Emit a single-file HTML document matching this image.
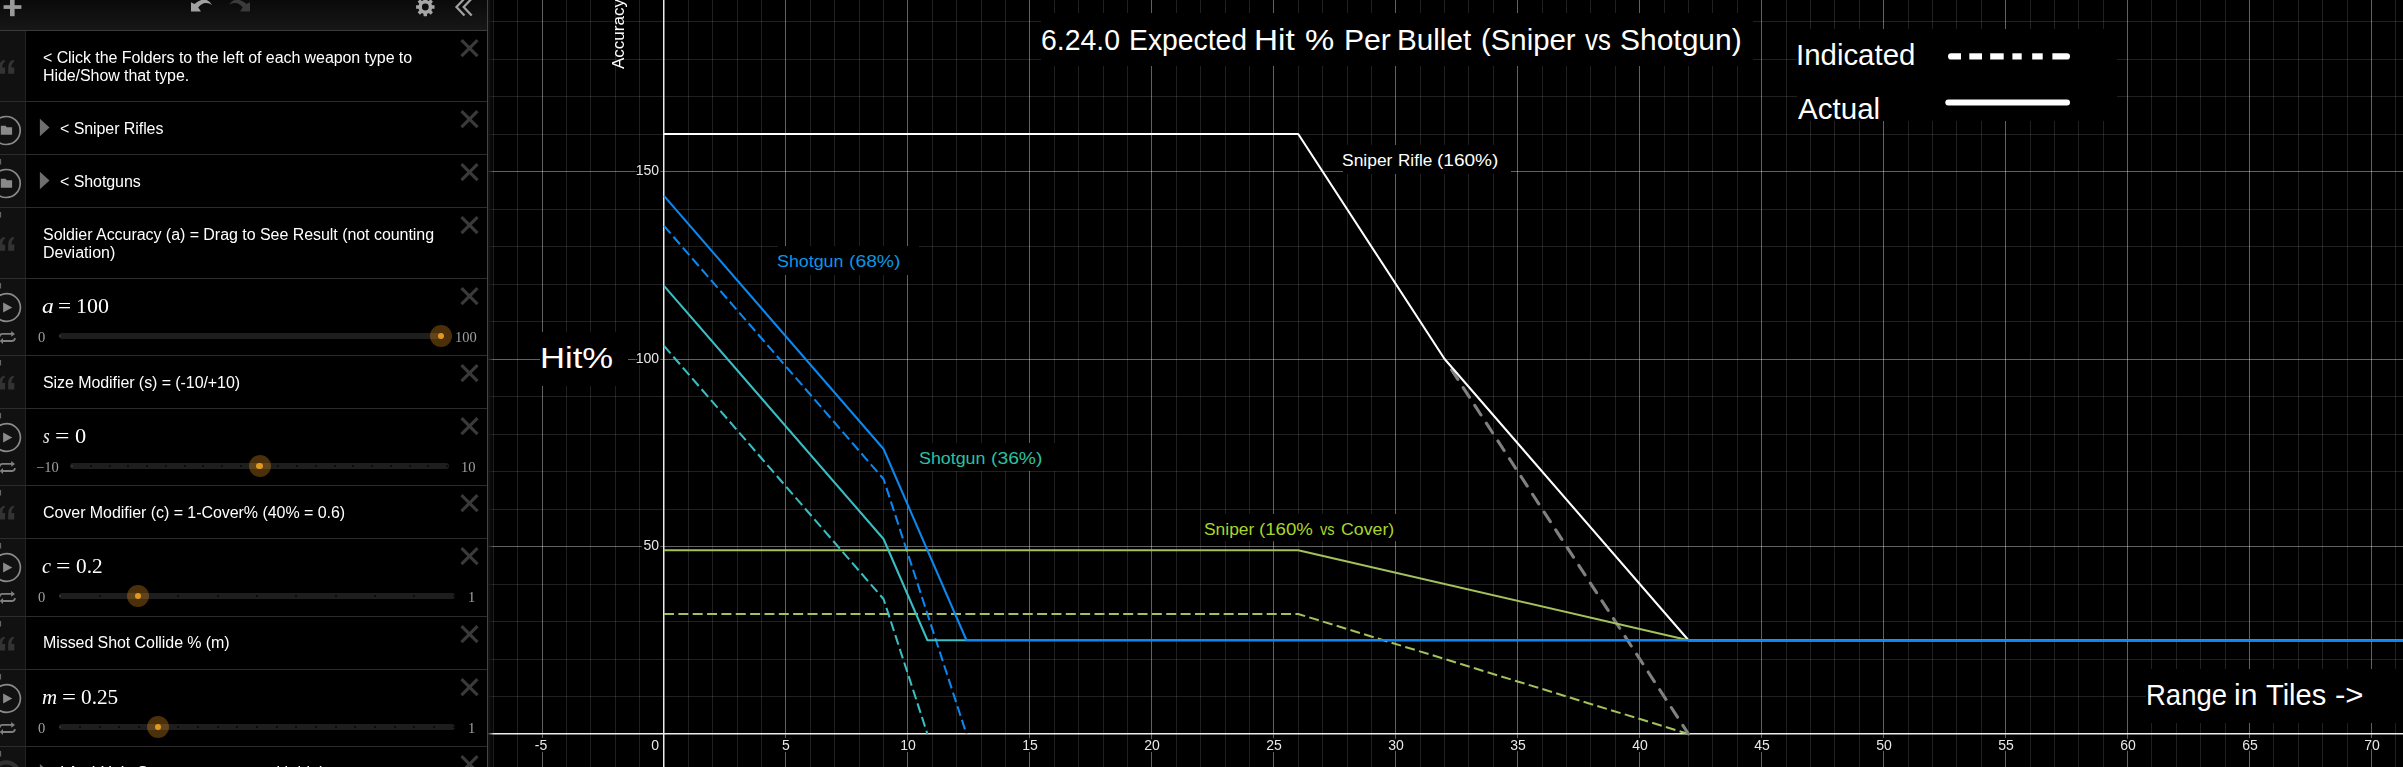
<!DOCTYPE html>
<html><head><meta charset="utf-8"><title>Desmos</title>
<style>
*{margin:0;padding:0;box-sizing:border-box}
html,body{width:2403px;height:767px;overflow:hidden;background:#000}
body{position:relative;font-family:"Liberation Sans",sans-serif;color:#fff}
#graph{position:absolute;left:0;top:0;width:2403px;height:767px}
#panel{position:absolute;left:0;top:0;width:488px;height:767px;background:#000;overflow:hidden}
#shadow{position:absolute;left:488px;top:0;width:6px;height:767px;background:linear-gradient(to right,rgba(22,22,22,.9),rgba(0,0,0,0))}
.topbar{position:absolute;left:0;top:0;width:487px;height:31px;background:linear-gradient(#0a0a0a,#171717);border-bottom:1px solid #3a3a3a}
.gutter{position:absolute;left:0;top:31px;width:26px;height:736px;background:#111;border-right:1px solid #232323}
.rb{position:absolute;left:0;width:487px;height:1px;background:#2c2c2c}
.vb{position:absolute;left:487px;top:0;width:1px;height:767px;background:#444}
.note{will-change:transform;position:absolute;left:43px;font-size:16px;line-height:18px;white-space:nowrap;color:#fff;letter-spacing:-0.075px}
.math{will-change:transform;position:absolute;left:43px;font-family:"Liberation Serif",serif;font-size:20px;line-height:24px;white-space:nowrap;color:#fff}
.math i{font-style:italic}
.math .eq{display:inline-block}
.lim{will-change:transform;position:absolute;font-family:"Liberation Serif",serif;font-size:14.5px;line-height:16px;color:#a0a0a0;white-space:nowrap}
.track{position:absolute;height:6px;border-radius:3px;background:#1e1e1e}
.dot{position:absolute;width:2px;height:2px;border-radius:1px;background:#0a0a0a}
.halo{position:absolute;width:22px;height:22px;border-radius:11px;background:rgba(232,150,28,.32)}
.knob{position:absolute;width:6.4px;height:6.4px;border-radius:3.2px;background:#e2981e}
svg{position:absolute;left:0;top:0;overflow:visible}
.axl{position:absolute;will-change:transform;font-size:14px;line-height:16px;color:#e8e8e8;-webkit-text-stroke:4px #000;paint-order:stroke fill;white-space:nowrap}
.lbl{position:absolute;white-space:nowrap;transform-origin:0 0;line-height:1}
.box{position:absolute;background:#000}
</style></head><body>

<svg id="graph" width="2403" height="767" viewBox="0 0 2403 767">
<rect x="0" y="0" width="2403" height="767" fill="#000"/>
<g stroke="#fff" stroke-opacity="0.125" stroke-width="1" shape-rendering="crispEdges">
<line x1="493.5" y1="0" x2="493.5" y2="767"/>
<line x1="517.5" y1="0" x2="517.5" y2="767"/>
<line x1="566.5" y1="0" x2="566.5" y2="767"/>
<line x1="590.5" y1="0" x2="590.5" y2="767"/>
<line x1="615.5" y1="0" x2="615.5" y2="767"/>
<line x1="639.5" y1="0" x2="639.5" y2="767"/>
<line x1="688.5" y1="0" x2="688.5" y2="767"/>
<line x1="712.5" y1="0" x2="712.5" y2="767"/>
<line x1="737.5" y1="0" x2="737.5" y2="767"/>
<line x1="761.5" y1="0" x2="761.5" y2="767"/>
<line x1="810.5" y1="0" x2="810.5" y2="767"/>
<line x1="834.5" y1="0" x2="834.5" y2="767"/>
<line x1="859.5" y1="0" x2="859.5" y2="767"/>
<line x1="883.5" y1="0" x2="883.5" y2="767"/>
<line x1="932.5" y1="0" x2="932.5" y2="767"/>
<line x1="956.5" y1="0" x2="956.5" y2="767"/>
<line x1="981.5" y1="0" x2="981.5" y2="767"/>
<line x1="1005.5" y1="0" x2="1005.5" y2="767"/>
<line x1="1054.5" y1="0" x2="1054.5" y2="767"/>
<line x1="1078.5" y1="0" x2="1078.5" y2="767"/>
<line x1="1103.5" y1="0" x2="1103.5" y2="767"/>
<line x1="1127.5" y1="0" x2="1127.5" y2="767"/>
<line x1="1176.5" y1="0" x2="1176.5" y2="767"/>
<line x1="1200.5" y1="0" x2="1200.5" y2="767"/>
<line x1="1225.5" y1="0" x2="1225.5" y2="767"/>
<line x1="1249.5" y1="0" x2="1249.5" y2="767"/>
<line x1="1298.5" y1="0" x2="1298.5" y2="767"/>
<line x1="1322.5" y1="0" x2="1322.5" y2="767"/>
<line x1="1347.5" y1="0" x2="1347.5" y2="767"/>
<line x1="1371.5" y1="0" x2="1371.5" y2="767"/>
<line x1="1420.5" y1="0" x2="1420.5" y2="767"/>
<line x1="1444.5" y1="0" x2="1444.5" y2="767"/>
<line x1="1468.5" y1="0" x2="1468.5" y2="767"/>
<line x1="1493.5" y1="0" x2="1493.5" y2="767"/>
<line x1="1542.5" y1="0" x2="1542.5" y2="767"/>
<line x1="1566.5" y1="0" x2="1566.5" y2="767"/>
<line x1="1590.5" y1="0" x2="1590.5" y2="767"/>
<line x1="1615.5" y1="0" x2="1615.5" y2="767"/>
<line x1="1664.5" y1="0" x2="1664.5" y2="767"/>
<line x1="1688.5" y1="0" x2="1688.5" y2="767"/>
<line x1="1712.5" y1="0" x2="1712.5" y2="767"/>
<line x1="1737.5" y1="0" x2="1737.5" y2="767"/>
<line x1="1786.5" y1="0" x2="1786.5" y2="767"/>
<line x1="1810.5" y1="0" x2="1810.5" y2="767"/>
<line x1="1834.5" y1="0" x2="1834.5" y2="767"/>
<line x1="1859.5" y1="0" x2="1859.5" y2="767"/>
<line x1="1908.5" y1="0" x2="1908.5" y2="767"/>
<line x1="1932.5" y1="0" x2="1932.5" y2="767"/>
<line x1="1956.5" y1="0" x2="1956.5" y2="767"/>
<line x1="1981.5" y1="0" x2="1981.5" y2="767"/>
<line x1="2030.5" y1="0" x2="2030.5" y2="767"/>
<line x1="2054.5" y1="0" x2="2054.5" y2="767"/>
<line x1="2078.5" y1="0" x2="2078.5" y2="767"/>
<line x1="2103.5" y1="0" x2="2103.5" y2="767"/>
<line x1="2151.5" y1="0" x2="2151.5" y2="767"/>
<line x1="2176.5" y1="0" x2="2176.5" y2="767"/>
<line x1="2200.5" y1="0" x2="2200.5" y2="767"/>
<line x1="2225.5" y1="0" x2="2225.5" y2="767"/>
<line x1="2273.5" y1="0" x2="2273.5" y2="767"/>
<line x1="2298.5" y1="0" x2="2298.5" y2="767"/>
<line x1="2322.5" y1="0" x2="2322.5" y2="767"/>
<line x1="2347.5" y1="0" x2="2347.5" y2="767"/>
<line x1="2395.5" y1="0" x2="2395.5" y2="767"/>
<line x1="488" y1="696.5" x2="2403" y2="696.5"/>
<line x1="488" y1="659.5" x2="2403" y2="659.5"/>
<line x1="488" y1="621.5" x2="2403" y2="621.5"/>
<line x1="488" y1="584.5" x2="2403" y2="584.5"/>
<line x1="488" y1="509.5" x2="2403" y2="509.5"/>
<line x1="488" y1="471.5" x2="2403" y2="471.5"/>
<line x1="488" y1="434.5" x2="2403" y2="434.5"/>
<line x1="488" y1="396.5" x2="2403" y2="396.5"/>
<line x1="488" y1="321.5" x2="2403" y2="321.5"/>
<line x1="488" y1="284.5" x2="2403" y2="284.5"/>
<line x1="488" y1="246.5" x2="2403" y2="246.5"/>
<line x1="488" y1="209.5" x2="2403" y2="209.5"/>
<line x1="488" y1="134.5" x2="2403" y2="134.5"/>
<line x1="488" y1="96.5" x2="2403" y2="96.5"/>
<line x1="488" y1="59.5" x2="2403" y2="59.5"/>
<line x1="488" y1="21.5" x2="2403" y2="21.5"/>
</g>
<g stroke="#fff" stroke-opacity="0.38" stroke-width="1" shape-rendering="crispEdges">
<line x1="542.5" y1="0" x2="542.5" y2="767"/>
<line x1="785.5" y1="0" x2="785.5" y2="767"/>
<line x1="907.5" y1="0" x2="907.5" y2="767"/>
<line x1="1029.5" y1="0" x2="1029.5" y2="767"/>
<line x1="1151.5" y1="0" x2="1151.5" y2="767"/>
<line x1="1273.5" y1="0" x2="1273.5" y2="767"/>
<line x1="1395.5" y1="0" x2="1395.5" y2="767"/>
<line x1="1517.5" y1="0" x2="1517.5" y2="767"/>
<line x1="1639.5" y1="0" x2="1639.5" y2="767"/>
<line x1="1761.5" y1="0" x2="1761.5" y2="767"/>
<line x1="1883.5" y1="0" x2="1883.5" y2="767"/>
<line x1="2005.5" y1="0" x2="2005.5" y2="767"/>
<line x1="2127.5" y1="0" x2="2127.5" y2="767"/>
<line x1="2249.5" y1="0" x2="2249.5" y2="767"/>
<line x1="2371.5" y1="0" x2="2371.5" y2="767"/>
<line x1="488" y1="546.5" x2="2403" y2="546.5"/>
<line x1="488" y1="359.5" x2="2403" y2="359.5"/>
<line x1="488" y1="171.5" x2="2403" y2="171.5"/>
</g>
<g fill="#ececec">
<rect x="663" y="0" width="1.5" height="767"/>
<rect x="488" y="733" width="1915" height="1.5"/>
</g>
<g fill="none" stroke-width="2.05" stroke-linejoin="round">
<path d="M664.00 614.00 L1298.22 614.00 L1688.51 734.00" stroke="#a3c25c" stroke-dasharray="10 4.35"/>
<path d="M664.00 345.88 L883.54 599.00 L927.44 734.00" stroke="#3abec3" stroke-dasharray="10 4.35"/>
<path d="M664.00 225.88 L883.54 479.00 L966.47 734.00" stroke="#0b87ef" stroke-dasharray="10 4.35"/>
<path d="M1451.65 369.88 L1688.51 734.00" stroke="#808080" stroke-width="3.1" stroke-linecap="round" stroke-dasharray="11.4 9.8"/>
<path d="M664.00 134.00 L1298.22 134.00 L1444.58 359.00 L1688.51 640.25 L2420.30 640.25" stroke="#fff"/>
<path d="M664.00 550.25 L1298.22 550.25 L1688.51 640.25 L2420.30 640.25" stroke="#a3c25c"/>
<path d="M664.00 285.88 L883.54 539.00 L927.44 640.25 L2420.30 640.25" stroke="#3abec3"/>
<path d="M664.00 195.88 L883.54 449.00 L966.47 640.25 L2420.30 640.25" stroke="#0b87ef"/>
</g>
</svg>
<div class="axl" style="left:510.83px;width:60px;text-align:center;top:737px">-5</div>
<div class="axl" style="left:755.97px;width:60px;text-align:center;top:737px">5</div>
<div class="axl" style="left:877.93px;width:60px;text-align:center;top:737px">10</div>
<div class="axl" style="left:999.89px;width:60px;text-align:center;top:737px">15</div>
<div class="axl" style="left:1121.86px;width:60px;text-align:center;top:737px">20</div>
<div class="axl" style="left:1243.83px;width:60px;text-align:center;top:737px">25</div>
<div class="axl" style="left:1365.79px;width:60px;text-align:center;top:737px">30</div>
<div class="axl" style="left:1487.76px;width:60px;text-align:center;top:737px">35</div>
<div class="axl" style="left:1609.72px;width:60px;text-align:center;top:737px">40</div>
<div class="axl" style="left:1731.68px;width:60px;text-align:center;top:737px">45</div>
<div class="axl" style="left:1853.65px;width:60px;text-align:center;top:737px">50</div>
<div class="axl" style="left:1975.62px;width:60px;text-align:center;top:737px">55</div>
<div class="axl" style="left:2097.58px;width:60px;text-align:center;top:737px">60</div>
<div class="axl" style="left:2219.55px;width:60px;text-align:center;top:737px">65</div>
<div class="axl" style="left:2341.51px;width:60px;text-align:center;top:737px">70</div>
<div class="axl" style="left:599.40px;width:60px;text-align:right;top:737px">0</div>
<div class="axl" style="left:599.40px;width:60px;text-align:right;top:537px">50</div>
<div class="axl" style="left:599.40px;width:60px;text-align:right;top:350px">100</div>
<div class="axl" style="left:599.40px;width:60px;text-align:right;top:162px">150</div>
<div class="axl" style="left:624.2px;top:69.3px;font-size:17px;line-height:20px;color:#fff;-webkit-text-stroke:0;transform-origin:0 0;transform:rotate(-90deg) translateY(-15px)">Accuracy</div>
<div class="box" style="left:1041px;top:13px;width:712px;height:53px"></div>
<div class="box" style="left:1797px;top:29px;width:320px;height:92px"></div>
<div class="box" style="left:540px;top:332px;width:88px;height:54px"></div>
<div class="box" style="left:2146px;top:669px;width:257px;height:54px"></div>
<div class="box" style="left:1343px;top:145px;width:168px;height:29px"></div>
<div class="box" style="left:778px;top:246px;width:141px;height:29px"></div>
<div class="box" style="left:920px;top:443px;width:141px;height:28px"></div>
<div class="box" style="left:1204px;top:514px;width:202px;height:27px"></div>
<div class="lbl" style="left:1041.32px;top:24px;font-size:29px;line-height:33px;color:#fff;transform:scaleX(0.9798)">6.24.0</div>
<div class="lbl" style="left:1128.94px;top:24px;font-size:29px;line-height:33px;color:#fff;transform:scaleX(0.9761)">Expected</div>
<div class="lbl" style="left:1254.33px;top:24px;font-size:29px;line-height:33px;color:#fff;transform:scaleX(1.1483)">Hit</div>
<div class="lbl" style="left:1305.29px;top:24px;font-size:29px;line-height:33px;color:#fff;transform:scaleX(1.1352)">%</div>
<div class="lbl" style="left:1343.83px;top:24px;font-size:29px;line-height:33px;color:#fff;transform:scaleX(1.0392)">Per</div>
<div class="lbl" style="left:1397.36px;top:24px;font-size:29px;line-height:33px;color:#fff;transform:scaleX(1.0224)">Bullet</div>
<div class="lbl" style="left:1481.48px;top:24px;font-size:29px;line-height:33px;color:#fff;transform:scaleX(1.0120)">(Sniper</div>
<div class="lbl" style="left:1585.48px;top:24px;font-size:29px;line-height:33px;color:#fff;transform:scaleX(0.8908)">vs</div>
<div class="lbl" style="left:1620.07px;top:24px;font-size:29px;line-height:33px;color:#fff;transform:scaleX(1.0338)">Shotgun)</div>
<div class="lbl" style="left:1795.66px;top:39px;font-size:29px;line-height:33px;color:#fff;transform:scaleX(1.0141)">Indicated</div>
<div class="lbl" style="left:1797.90px;top:93px;font-size:29px;line-height:33px;color:#fff;transform:scaleX(1.0189)">Actual</div>
<div class="lbl" style="left:539.55px;top:342px;font-size:29px;line-height:33px;color:#fff;transform:scaleX(1.1952)">Hit%</div>
<div class="lbl" style="left:2146.09px;top:679px;font-size:29px;line-height:33px;color:#fff;transform:scaleX(0.9478)">Range</div>
<div class="lbl" style="left:2234.34px;top:679px;font-size:29px;line-height:33px;color:#fff;transform:scaleX(1.0361)">in</div>
<div class="lbl" style="left:2265.90px;top:679px;font-size:29px;line-height:33px;color:#fff;transform:scaleX(1.0017)">Tiles</div>
<div class="lbl" style="left:2334.74px;top:679px;font-size:29px;line-height:33px;color:#fff;transform:scaleX(1.0738)">-&gt;</div>
<div class="lbl" style="left:1342.43px;top:152px;font-size:16px;line-height:18px;color:#fff;transform:scaleX(1.0903)">Sniper</div>
<div class="lbl" style="left:1398.34px;top:152px;font-size:16px;line-height:18px;color:#fff;transform:scaleX(1.0691)">Rifle</div>
<div class="lbl" style="left:1437.15px;top:152px;font-size:16px;line-height:18px;color:#fff;transform:scaleX(1.1905)">(160%)</div>
<div class="lbl" style="left:777.41px;top:253px;font-size:16px;line-height:18px;color:#0c96e6;transform:scaleX(1.1130)">Shotgun</div>
<div class="lbl" style="left:849.24px;top:253px;font-size:16px;line-height:18px;color:#0c96e6;transform:scaleX(1.2053)">(68%)</div>
<div class="lbl" style="left:919.21px;top:450px;font-size:16px;line-height:18px;color:#2cc0a4;transform:scaleX(1.1130)">Shotgun</div>
<div class="lbl" style="left:991.04px;top:450px;font-size:16px;line-height:18px;color:#2cc0a4;transform:scaleX(1.2053)">(36%)</div>
<div class="lbl" style="left:1203.63px;top:521px;font-size:16px;line-height:18px;color:#a8d62a;transform:scaleX(1.0881)">Sniper</div>
<div class="lbl" style="left:1259.47px;top:521px;font-size:16px;line-height:18px;color:#a8d62a;transform:scaleX(1.1652)">(160%</div>
<div class="lbl" style="left:1320.48px;top:521px;font-size:16px;line-height:18px;color:#a8d62a;transform:scaleX(0.9146)">vs</div>
<div class="lbl" style="left:1340.91px;top:521px;font-size:16px;line-height:18px;color:#a8d62a;transform:scaleX(1.1078)">Cover)</div>
<svg width="2403" height="767" viewBox="0 0 2403 767" style="pointer-events:none">
<g fill="#fff">
<path d="M1951.1 53.3 L1961 53.3 L1961 59.5 L1951.1 59.5 A3.1 3.1 0 0 1 1951.1 53.3 Z"/>
<rect x="1969.3" y="53.3" width="12.7" height="6.2"/>
<rect x="1990.2" y="53.3" width="13.5" height="6.2"/>
<rect x="2012.4" y="53.3" width="9.3" height="6.2"/>
<rect x="2032.2" y="53.3" width="10.5" height="6.2"/>
<path d="M2052.4 53.3 L2066.9 53.3 A3.1 3.1 0 0 1 2066.9 59.5 L2052.4 59.5 Z"/>
<rect x="1945.3" y="99.4" width="124.7" height="6" rx="3"/>
</g></svg>
<div id="shadow"></div>
<div id="panel">
<div class="gutter"></div>
<div class="topbar"></div>
<div class="vb"></div>
<div class="rb" style="top:101px"></div>
<div class="rb" style="top:154px"></div>
<div class="rb" style="top:207px"></div>
<div class="rb" style="top:278px"></div>
<div class="rb" style="top:355px"></div>
<div class="rb" style="top:408px"></div>
<div class="rb" style="top:485px"></div>
<div class="rb" style="top:538px"></div>
<div class="rb" style="top:616px"></div>
<div class="rb" style="top:669px"></div>
<div class="rb" style="top:746px"></div>
<svg width="488" height="767" viewBox="0 0 488 767">
<g fill="#9a9a9a"><rect x="3.6" y="5.2" width="17.8" height="3.7"/><rect x="10" y="-3" width="4.6" height="19.2"/></g>
<path d="M191 2.2 L191 11.6 L201 11.6 L198.2 7.6 Q202 2.8 206.2 3.1 Q209.5 3.3 212.1 4.9 Q208.6 -0.5 204.2 -0.5 Q199.5 -0.3 194.5 3.9 Z" fill="#a0a0a0"/>
<path d="M191 2.2 L191 11.6 L201 11.6 L198.2 7.6 Q202 2.8 206.2 3.1 Q209.5 3.3 212.1 4.9 Q208.6 -0.5 204.2 -0.5 Q199.5 -0.3 194.5 3.9 Z" fill="#3a3a3a" transform="translate(441,0) scale(-1,1)"/>
<path d="M432.05 5.13 L434.51 5.37 L434.51 8.63 L432.05 8.87 L431.39 10.45 L432.96 12.36 L430.66 14.66 L428.75 13.09 L427.17 13.75 L426.93 16.21 L423.67 16.21 L423.43 13.75 L421.85 13.09 L419.94 14.66 L417.64 12.36 L419.21 10.45 L418.55 8.87 L416.09 8.63 L416.09 5.37 L418.55 5.13 L419.21 3.55 L417.64 1.64 L419.94 -0.66 L421.85 0.91 L423.43 0.25 L423.67 -2.21 L426.93 -2.21 L427.17 0.25 L428.75 0.91 L430.66 -0.66 L432.96 1.64 L431.39 3.55 Z M428.70 7.00 A3.4 3.4 0 1 0 421.90 7.00 A3.4 3.4 0 1 0 428.70 7.00 Z" fill="#a6a6a6" fill-rule="evenodd"/>
<g fill="none" stroke="#a2a2a2" stroke-width="2.2"><path d="M464.5 -1.4 L456.45 7 L464.5 15.4"/><path d="M471.7 -1.4 L463.65 7 L471.7 15.4"/></g>
<g stroke="#3a3a3a" stroke-width="3.1" stroke-linecap="butt">
<path d="M461.5 40.2 L477.5 56.2 M477.5 40.2 L461.5 56.2"/>
<path d="M461.5 111.2 L477.5 127.2 M477.5 111.2 L461.5 127.2"/>
<path d="M461.5 164.2 L477.5 180.2 M477.5 164.2 L461.5 180.2"/>
<path d="M461.5 217.2 L477.5 233.2 M477.5 217.2 L461.5 233.2"/>
<path d="M461.5 288.2 L477.5 304.2 M477.5 288.2 L461.5 304.2"/>
<path d="M461.5 365.2 L477.5 381.2 M477.5 365.2 L461.5 381.2"/>
<path d="M461.5 418.2 L477.5 434.2 M477.5 418.2 L461.5 434.2"/>
<path d="M461.5 495.2 L477.5 511.2 M477.5 495.2 L461.5 511.2"/>
<path d="M461.5 548.2 L477.5 564.2 M477.5 548.2 L461.5 564.2"/>
<path d="M461.5 626.2 L477.5 642.2 M477.5 626.2 L461.5 642.2"/>
<path d="M461.5 679.2 L477.5 695.2 M477.5 679.2 L461.5 695.2"/>
<path d="M461.5 756.2 L477.5 772.2 M477.5 756.2 L461.5 772.2"/>
</g>
<path d="M-1.0 73.7 L-1.0 67.8 Q-1.0 61.3 4.2 59.8 L5.1 61.4 Q2.2 63.2 2.2 67.4 L5.1 67.4 L5.1 73.7 Z" fill="#333"/><path d="M8.2 73.7 L8.2 67.8 Q8.2 61.3 13.4 59.8 L14.3 61.4 Q11.4 63.2 11.4 67.4 L14.3 67.4 L14.3 73.7 Z" fill="#333"/>
<path d="M-1.0 250.7 L-1.0 244.8 Q-1.0 238.3 4.2 236.8 L5.1 238.4 Q2.2 240.2 2.2 244.4 L5.1 244.4 L5.1 250.7 Z" fill="#333"/><path d="M8.2 250.7 L8.2 244.8 Q8.2 238.3 13.4 236.8 L14.3 238.4 Q11.4 240.2 11.4 244.4 L14.3 244.4 L14.3 250.7 Z" fill="#333"/>
<path d="M-1.0 389.4 L-1.0 383.5 Q-1.0 377.0 4.2 375.5 L5.1 377.1 Q2.2 378.9 2.2 383.1 L5.1 383.1 L5.1 389.4 Z" fill="#333"/><path d="M8.2 389.4 L8.2 383.5 Q8.2 377.0 13.4 375.5 L14.3 377.1 Q11.4 378.9 11.4 383.1 L14.3 383.1 L14.3 389.4 Z" fill="#333"/>
<path d="M-1.0 519.4 L-1.0 513.5 Q-1.0 507.0 4.2 505.5 L5.1 507.1 Q2.2 508.9 2.2 513.1 L5.1 513.1 L5.1 519.4 Z" fill="#333"/><path d="M8.2 519.4 L8.2 513.5 Q8.2 507.0 13.4 505.5 L14.3 507.1 Q11.4 508.9 11.4 513.1 L14.3 513.1 L14.3 519.4 Z" fill="#333"/>
<path d="M-1.0 650.4 L-1.0 644.5 Q-1.0 638.0 4.2 636.5 L5.1 638.1 Q2.2 639.9 2.2 644.1 L5.1 644.1 L5.1 650.4 Z" fill="#333"/><path d="M8.2 650.4 L8.2 644.5 Q8.2 638.0 13.4 636.5 L14.3 638.1 Q11.4 639.9 11.4 644.1 L14.3 644.1 L14.3 650.4 Z" fill="#333"/>
<circle cx="6.2" cy="130.5" r="14" fill="none" stroke="#8a8a8a" stroke-width="1.7"/>
<path d="M0.8 125.8 L5.6 125.8 L6.8 127.3 L12.1 127.3 L12.1 134.8 L0.8 134.8 Z" fill="#8a8a8a"/>
<path d="M39.9 118.8 L49.5 127.5 L39.9 136.2 Z" fill="#6e6e6e"/>
<circle cx="6.2" cy="183.5" r="14" fill="none" stroke="#8a8a8a" stroke-width="1.7"/>
<path d="M0.8 178.8 L5.6 178.8 L6.8 180.3 L12.1 180.3 L12.1 187.8 L0.8 187.8 Z" fill="#8a8a8a"/>
<path d="M39.9 171.8 L49.5 180.5 L39.9 189.2 Z" fill="#6e6e6e"/>
<circle cx="6.6" cy="307.5" r="13.8" fill="none" stroke="#8a8a8a" stroke-width="1.7"/>
<path d="M3.1 302.4 L12.3 307.5 L3.1 312.6 Z" fill="#8a8a8a"/>
<g fill="none" stroke="#808080" stroke-width="1.8"><path d="M-0.6 336.7 Q0 333.9 2.6 333.9 L12 333.9"/><path d="M2.5 341.0 L12.2 341.0 Q14.6 341.0 15 338.2"/></g>
<path d="M11.2 331.1 L15 333.9 L11.2 336.7 Z M3 338.1 L-0.4 341.0 L3 343.9 Z" fill="#808080"/>
<circle cx="6.6" cy="437.5" r="13.8" fill="none" stroke="#8a8a8a" stroke-width="1.7"/>
<path d="M3.1 432.4 L12.3 437.5 L3.1 442.6 Z" fill="#8a8a8a"/>
<g fill="none" stroke="#808080" stroke-width="1.8"><path d="M-0.6 466.7 Q0 463.9 2.6 463.9 L12 463.9"/><path d="M2.5 471.0 L12.2 471.0 Q14.6 471.0 15 468.2"/></g>
<path d="M11.2 461.1 L15 463.9 L11.2 466.7 Z M3 468.1 L-0.4 471.0 L3 473.9 Z" fill="#808080"/>
<circle cx="6.6" cy="567.5" r="13.8" fill="none" stroke="#8a8a8a" stroke-width="1.7"/>
<path d="M3.1 562.4 L12.3 567.5 L3.1 572.6 Z" fill="#8a8a8a"/>
<g fill="none" stroke="#808080" stroke-width="1.8"><path d="M-0.6 596.7 Q0 593.9 2.6 593.9 L12 593.9"/><path d="M2.5 601.0 L12.2 601.0 Q14.6 601.0 15 598.2"/></g>
<path d="M11.2 591.1 L15 593.9 L11.2 596.7 Z M3 598.1 L-0.4 601.0 L3 603.9 Z" fill="#808080"/>
<circle cx="6.6" cy="698.5" r="13.8" fill="none" stroke="#8a8a8a" stroke-width="1.7"/>
<path d="M3.1 693.4 L12.3 698.5 L3.1 703.6 Z" fill="#8a8a8a"/>
<g fill="none" stroke="#808080" stroke-width="1.8"><path d="M-0.6 727.7 Q0 724.9 2.6 724.9 L12 724.9"/><path d="M2.5 732.0 L12.2 732.0 Q14.6 732.0 15 729.2"/></g>
<path d="M11.2 722.1 L15 724.9 L11.2 727.7 Z M3 729.1 L-0.4 732.0 L3 734.9 Z" fill="#808080"/>
<circle cx="6.2" cy="775.5" r="13.2" fill="none" stroke="#313131" stroke-width="4.2"/>
<rect x="0" y="159" width="1.1" height="5.5" fill="#666"/>
<rect x="0" y="212" width="1.1" height="5.5" fill="#666"/>
<rect x="0" y="283" width="1.1" height="5.5" fill="#666"/>
<rect x="0" y="360" width="1.1" height="5.5" fill="#666"/>
<rect x="0" y="413" width="1.1" height="5.5" fill="#666"/>
<rect x="0" y="490" width="1.1" height="5.5" fill="#666"/>
<rect x="0" y="543" width="1.1" height="5.5" fill="#666"/>
<rect x="0" y="621" width="1.1" height="5.5" fill="#666"/>
<rect x="0" y="674" width="1.1" height="5.5" fill="#666"/>
<rect x="0" y="751" width="1.1" height="5.5" fill="#666"/>
<path d="M39.9 764 L44 767.6 L39.9 771 Z" fill="#6e6e6e"/>
</svg>
<div class="note" style="top:48.5px">&lt; Click the Folders to the left of each weapon type to<br>Hide/Show that type.</div>
<div class="note" style="left:60px;top:119.5px">&lt; Sniper Rifles</div>
<div class="note" style="left:60px;top:172.5px">&lt; Shotguns</div>
<div class="note" style="top:225.5px"><span style="letter-spacing:-0.045px">Soldier Accuracy (a) = Drag to See Result (not counting</span><br><span style="letter-spacing:0.04px">Deviation)</span></div>
<div class="note" style="top:373.5px">Size Modifier (s) = (-10/+10)</div>
<div class="note" style="top:503.5px"><span style="letter-spacing:-0.05px">Cover Modifier (c) = 1-Cover% (40% = 0.6)</span></div>
<div class="note" style="top:633.5px">Missed Shot Collide % (m)</div>
<div class="note" style="left:60px;top:764px">I Anti-Unit: Support weapons with high</div>
<div class="math" style="left:42.26px;top:294px;font-style:italic;transform-origin:0 0;transform:scaleX(1.1786)">a</div>
<div class="math" style="left:58.17px;top:294px;transform-origin:0 0;transform:scaleX(1.1635)">=</div>
<div class="math" style="left:76.32px;top:294px;transform-origin:0 0;transform:scaleX(1.0985)">100</div>
<div class="track" style="left:58.699999999999996px;top:333.1px;width:383.9px"></div>
<div class="dot" style="left:59.3px;top:335.1px;background:#3a3a3a"></div>
<div class="dot" style="left:440.0px;top:335.1px;background:#070707"></div>
<div class="halo" style="left:430.0px;top:325.1px"></div>
<div class="knob" style="left:437.8px;top:332.90000000000003px"></div>
<div class="lim" style="left:37.5px;top:328.5px">0</div>
<div class="lim" style="left:454.6px;top:328.5px">100</div>
<div class="math" style="left:43.17px;top:424px;font-style:italic;transform-origin:0 0;transform:scaleX(0.8514)">s</div>
<div class="math" style="left:54.98px;top:424px;transform-origin:0 0;transform:scaleX(1.2788)">=</div>
<div class="math" style="left:74.50px;top:424px;transform-origin:0 0;transform:scaleX(1.1190)">0</div>
<div class="track" style="left:70.4px;top:463.1px;width:378.2px"></div>
<div class="dot" style="left:71.0px;top:465.1px;background:#3a3a3a"></div>
<div class="dot" style="left:89.8px;top:465.1px;background:#070707"></div>
<div class="dot" style="left:108.5px;top:465.1px;background:#070707"></div>
<div class="dot" style="left:127.2px;top:465.1px;background:#070707"></div>
<div class="dot" style="left:146.0px;top:465.1px;background:#070707"></div>
<div class="dot" style="left:164.8px;top:465.1px;background:#070707"></div>
<div class="dot" style="left:183.5px;top:465.1px;background:#070707"></div>
<div class="dot" style="left:202.2px;top:465.1px;background:#070707"></div>
<div class="dot" style="left:221.0px;top:465.1px;background:#070707"></div>
<div class="dot" style="left:239.8px;top:465.1px;background:#070707"></div>
<div class="dot" style="left:258.5px;top:465.1px;background:#070707"></div>
<div class="dot" style="left:277.2px;top:465.1px;background:#070707"></div>
<div class="dot" style="left:296.0px;top:465.1px;background:#070707"></div>
<div class="dot" style="left:314.8px;top:465.1px;background:#070707"></div>
<div class="dot" style="left:333.5px;top:465.1px;background:#070707"></div>
<div class="dot" style="left:352.2px;top:465.1px;background:#070707"></div>
<div class="dot" style="left:371.0px;top:465.1px;background:#070707"></div>
<div class="dot" style="left:389.8px;top:465.1px;background:#070707"></div>
<div class="dot" style="left:408.5px;top:465.1px;background:#070707"></div>
<div class="dot" style="left:427.2px;top:465.1px;background:#070707"></div>
<div class="dot" style="left:446.0px;top:465.1px;background:#070707"></div>
<div class="halo" style="left:248.5px;top:455.1px"></div>
<div class="knob" style="left:256.3px;top:462.90000000000003px"></div>
<div class="lim" style="left:35.6px;top:458.5px">&minus;10</div>
<div class="lim" style="left:461px;top:458.5px">10</div>
<div class="math" style="left:42.19px;top:554px;font-style:italic;transform-origin:0 0;transform:scaleX(1.0119)">c</div>
<div class="math" style="left:56.08px;top:554px;transform-origin:0 0;transform:scaleX(1.2788)">=</div>
<div class="math" style="left:75.65px;top:554px;transform-origin:0 0;transform:scaleX(1.0641)">0.2</div>
<div class="track" style="left:58.699999999999996px;top:593.1px;width:396.4px"></div>
<div class="dot" style="left:59.3px;top:595.1px;background:#3a3a3a"></div>
<div class="dot" style="left:98.6px;top:595.1px;background:#070707"></div>
<div class="dot" style="left:137.9px;top:595.1px;background:#070707"></div>
<div class="dot" style="left:177.3px;top:595.1px;background:#070707"></div>
<div class="dot" style="left:216.6px;top:595.1px;background:#070707"></div>
<div class="dot" style="left:255.9px;top:595.1px;background:#070707"></div>
<div class="dot" style="left:295.2px;top:595.1px;background:#070707"></div>
<div class="dot" style="left:334.5px;top:595.1px;background:#070707"></div>
<div class="dot" style="left:373.9px;top:595.1px;background:#070707"></div>
<div class="dot" style="left:413.2px;top:595.1px;background:#070707"></div>
<div class="dot" style="left:452.5px;top:595.1px;background:#070707"></div>
<div class="halo" style="left:127.0px;top:585.1px"></div>
<div class="knob" style="left:134.8px;top:592.9px"></div>
<div class="lim" style="left:37.5px;top:588.5px">0</div>
<div class="lim" style="left:468px;top:588.5px">1</div>
<div class="math" style="left:42.36px;top:685px;font-style:italic;transform-origin:0 0;transform:scaleX(1.0448)">m</div>
<div class="math" style="left:62.21px;top:685px;transform-origin:0 0;transform:scaleX(1.2404)">=</div>
<div class="math" style="left:81.35px;top:685px;transform-origin:0 0;transform:scaleX(1.0629)">0.25</div>
<div class="track" style="left:58.699999999999996px;top:724.1px;width:396.4px"></div>
<div class="dot" style="left:59.3px;top:726.1px;background:#3a3a3a"></div>
<div class="dot" style="left:79.0px;top:726.1px;background:#070707"></div>
<div class="dot" style="left:98.6px;top:726.1px;background:#070707"></div>
<div class="dot" style="left:118.3px;top:726.1px;background:#070707"></div>
<div class="dot" style="left:137.9px;top:726.1px;background:#070707"></div>
<div class="dot" style="left:157.6px;top:726.1px;background:#070707"></div>
<div class="dot" style="left:177.3px;top:726.1px;background:#070707"></div>
<div class="dot" style="left:196.9px;top:726.1px;background:#070707"></div>
<div class="dot" style="left:216.6px;top:726.1px;background:#070707"></div>
<div class="dot" style="left:236.2px;top:726.1px;background:#070707"></div>
<div class="dot" style="left:255.9px;top:726.1px;background:#070707"></div>
<div class="dot" style="left:275.6px;top:726.1px;background:#070707"></div>
<div class="dot" style="left:295.2px;top:726.1px;background:#070707"></div>
<div class="dot" style="left:314.9px;top:726.1px;background:#070707"></div>
<div class="dot" style="left:334.5px;top:726.1px;background:#070707"></div>
<div class="dot" style="left:354.2px;top:726.1px;background:#070707"></div>
<div class="dot" style="left:373.9px;top:726.1px;background:#070707"></div>
<div class="dot" style="left:393.5px;top:726.1px;background:#070707"></div>
<div class="dot" style="left:413.2px;top:726.1px;background:#070707"></div>
<div class="dot" style="left:432.8px;top:726.1px;background:#070707"></div>
<div class="dot" style="left:452.5px;top:726.1px;background:#070707"></div>
<div class="halo" style="left:147.0px;top:716.1px"></div>
<div class="knob" style="left:154.8px;top:723.9px"></div>
<div class="lim" style="left:37.5px;top:719.5px">0</div>
<div class="lim" style="left:468px;top:719.5px">1</div>
</div>
</body></html>
